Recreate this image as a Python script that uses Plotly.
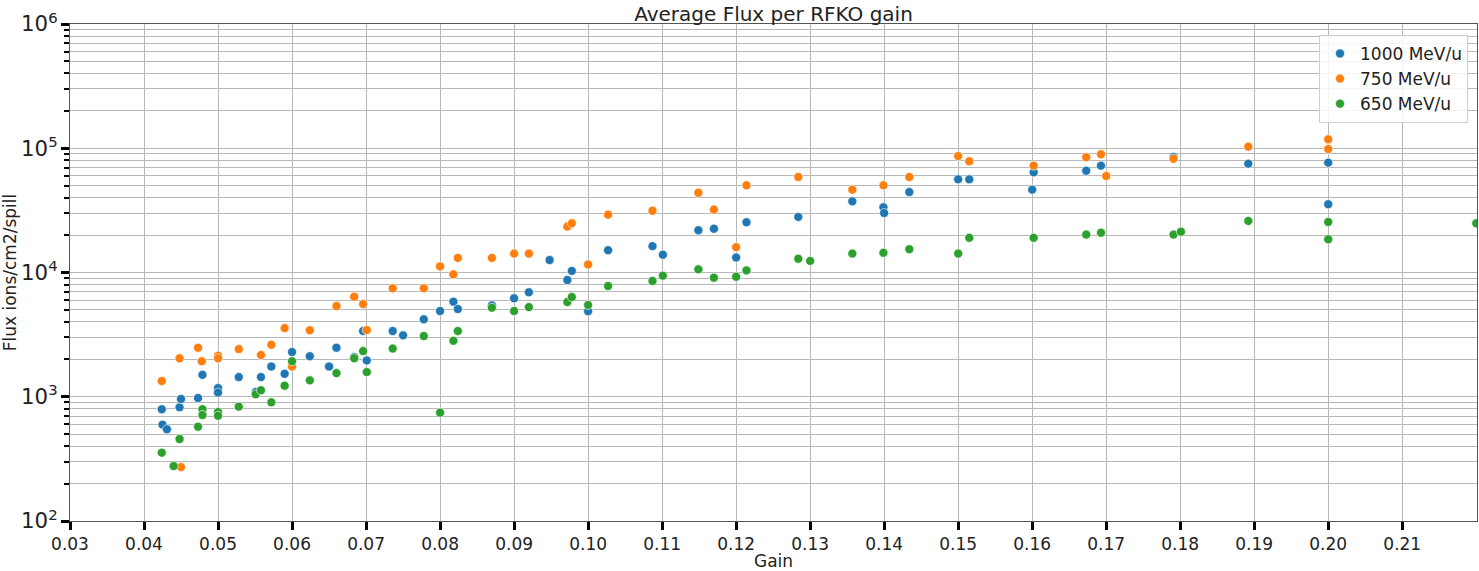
import plotly.graph_objects as go

# Gain settings and measured average flux (ions/cm2/spill) per beam energy
gain_1000 = [0.0425, 0.0431, 0.0424, 0.0448, 0.045, 0.0473, 0.0479, 0.05, 0.05, 0.0528,
             0.0551, 0.0558, 0.0572, 0.059, 0.06, 0.0624, 0.065, 0.066, 0.0684, 0.0696,
             0.0701, 0.0736, 0.075, 0.0778, 0.08, 0.0818, 0.0824, 0.087, 0.09, 0.092,
             0.0948, 0.0972, 0.0978, 0.1, 0.1027, 0.1087, 0.1101, 0.1149, 0.117, 0.12,
             0.1214, 0.1284, 0.1357, 0.1399, 0.14, 0.1434, 0.15, 0.1515, 0.16, 0.1602,
             0.1673, 0.1693, 0.1791, 0.1892, 0.2, 0.2]
flux_1000 = [596, 547, 793, 822, 960, 977, 1500, 1175, 1080, 1440,
             1093, 1440, 1750, 1530, 2290, 2120, 1750, 2480, 2090, 3380,
             1960, 3380, 3120, 4200, 4900, 5820, 5080, 5440, 6200, 6930,
             12600, 8700, 10300, 4880, 15100, 16300, 13900, 21900, 22500, 13200,
             25400, 28000, 37400, 33500, 30100, 44400, 56200, 56200, 46400, 64000,
             65900, 72400, 85100, 75200, 76600, 35400]

gain_750 = [0.0424, 0.0448, 0.045, 0.0473, 0.0478, 0.05, 0.05, 0.0528, 0.0558, 0.0572,
            0.059, 0.06, 0.0624, 0.066, 0.0684, 0.0696, 0.0701, 0.0736, 0.0778, 0.08,
            0.0818, 0.0824, 0.087, 0.09, 0.092, 0.0972, 0.0978, 0.1, 0.1027, 0.1087,
            0.1149, 0.117, 0.12, 0.1214, 0.1284, 0.1357, 0.1399, 0.1434, 0.15, 0.1515,
            0.1602, 0.1673, 0.1693, 0.17, 0.1791, 0.1892, 0.2, 0.2]
flux_750 = [1340, 2040, 272, 2480, 1930, 2140, 2040, 2420, 2170, 2620,
            3570, 1750, 3430, 5370, 6380, 5570, 3440, 7460, 7460, 11200,
            9660, 13100, 13100, 14200, 14200, 23400, 24900, 11600, 29200, 31400,
            43800, 32100, 16000, 50300, 58700, 46400, 50300, 58700, 86600, 78500,
            72400, 84600, 89400, 59800, 82400, 103000, 118000, 98600]

gain_650 = [0.0424, 0.044, 0.0448, 0.0473, 0.0479, 0.0479, 0.05, 0.05, 0.0528, 0.0551,
            0.0558, 0.0572, 0.059, 0.06, 0.0624, 0.066, 0.0684, 0.0696, 0.0701, 0.0736,
            0.0778, 0.08, 0.0818, 0.0824, 0.087, 0.09, 0.092, 0.0972, 0.0978, 0.1,
            0.1027, 0.1087, 0.1101, 0.1149, 0.117, 0.12, 0.1214, 0.1284, 0.13, 0.1357,
            0.1399, 0.1434, 0.15, 0.1515, 0.1602, 0.1673, 0.1693, 0.1791, 0.1801, 0.1892,
            0.2, 0.2, 0.22]
flux_650 = [355, 277, 457, 574, 793, 713, 753, 703, 832, 1047,
            1128, 902, 1227, 1930, 1355, 1550, 2040, 2330, 1580, 2440,
            3080, 745, 2820, 3380, 5210, 4900, 5270, 5790, 6350, 5480,
            7780, 8550, 9430, 10600, 9080, 9240, 10400, 12900, 12400, 14200,
            14400, 15400, 14200, 19000, 19000, 20200, 20900, 20200, 21300, 26000,
            25500, 18500, 24900]

x_ticks = [0.03, 0.04, 0.05, 0.06, 0.07, 0.08, 0.09, 0.10, 0.11, 0.12,
           0.13, 0.14, 0.15, 0.16, 0.17, 0.18, 0.19, 0.20, 0.21]
x_tick_labels = ["0.03", "0.04", "0.05", "0.06", "0.07", "0.08", "0.09", "0.10", "0.11", "0.12",
                 "0.13", "0.14", "0.15", "0.16", "0.17", "0.18", "0.19", "0.20", "0.21"]

series = [
    ("1000 MeV/u", gain_1000, flux_1000, "#1f77b4"),
    ("750 MeV/u", gain_750, flux_750, "#ff7f0e"),
    ("650 MeV/u", gain_650, flux_650, "#2ca02c"),
]

FONT = "DejaVu Sans"
TEXT = "#222222"
GRID = "#b8b8b8"

fig = go.Figure()
for name, xs, ys, color in series:
    fig.add_trace(go.Scatter(
        x=xs, y=ys, mode="markers", name=name,
        marker=dict(size=9, color=color, line=dict(color="white", width=0.6)),
    ))

fig.update_layout(
    width=1479, height=571,
    margin=dict(l=70, r=2, t=24, b=50),
    paper_bgcolor="white", plot_bgcolor="white",
    font=dict(family=FONT, color=TEXT, size=17),
    title=dict(text="Average Flux per RFKO gain", x=(70 + 1477) / 2 / 1479, xanchor="center",
               y=1 - 14 / 571, yanchor="middle", yref="container",
               font=dict(family=FONT, size=20, color=TEXT)),
    legend=dict(x=0.9936, y=0.978, xanchor="right", yanchor="top",
                bgcolor="rgba(255,255,255,0.85)", bordercolor="#d0d0d0", borderwidth=1,
                font=dict(family=FONT, size=17, color=TEXT), itemwidth=30),
    showlegend=True,
)

fig.update_xaxes(
    range=[0.03, 0.2201], tickvals=x_ticks, ticktext=x_tick_labels,
    showgrid=True, gridcolor=GRID, gridwidth=1,
    ticks="outside", ticklen=8, tickwidth=3, tickcolor="black",
    showline=True, linecolor="#555555", linewidth=1, mirror=True,
    zeroline=False, tickfont=dict(size=17, color=TEXT),
    title=dict(text="Gain", font=dict(size=17, color=TEXT), standoff=2),
)

fig.update_yaxes(
    type="log", range=[2, 6], dtick=1, exponentformat="power",
    showgrid=True, gridcolor=GRID, gridwidth=1,
    ticks="outside", ticklen=8, tickwidth=3, tickcolor="black",
    minor=dict(ticks="outside", ticklen=5, tickwidth=2, tickcolor="black",
               showgrid=True, gridcolor=GRID, gridwidth=1, dtick="D1"),
    showline=True, linecolor="#555555", linewidth=1, mirror=True,
    zeroline=False, tickfont=dict(size=17, color=TEXT),
    title=dict(text="Flux ions/cm2/spill", font=dict(size=17, color=TEXT), standoff=4),
)

fig.write_html("out.html")
